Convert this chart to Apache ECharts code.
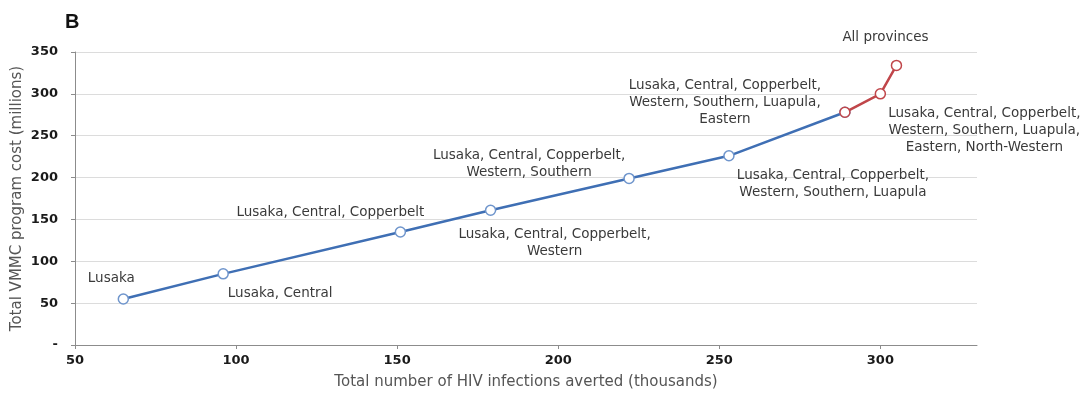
<!DOCTYPE html>
<html>
<head>
<meta charset="utf-8">
<script src="https://cdn.jsdelivr.net/npm/echarts@6/dist/echarts.min.js"></script>
<style>
html,body{margin:0;padding:0;background:#fff;}
#chart{width:1087px;height:402px;}
</style>
</head>
<body>
<div id="chart"></div>
<script>
// ---- data ----
const infectionsAverted = [65, 96, 151, 179, 222, 253, 289, 300, 305];
const programCost = [55, 85, 135, 161, 199, 226, 278, 300, 334];
const provinceLabels = [
  'Lusaka',
  'Lusaka, Central',
  'Lusaka, Central, Copperbelt',
  'Lusaka, Central, Copperbelt,\nWestern',
  'Lusaka, Central, Copperbelt,\nWestern, Southern',
  'Lusaka, Central, Copperbelt,\nWestern, Southern, Luapula',
  'Lusaka, Central, Copperbelt,\nWestern, Southern, Luapula,\nEastern',
  'Lusaka, Central, Copperbelt,\nWestern, Southern, Luapula,\nEastern, North-Western',
  'All provinces'
];
const redStartIndex = 6;
const xTicks = [50, 100, 150, 200, 250, 300];

// label placement (style, kept apart from the data)
const labelOffsets = [
  [-12, -20], [57, 20], [-70, -19], [64, 33], [-100, -14],
  [104, 28], [-120, -10], [104, 37], [-11, -28]
];

const FONT = 'DejaVu Sans';
const BLUE = '#3f6fb4';
const RED = '#c0464a';

function makePoint(i) {
  return {
    value: [infectionsAverted[i], programCost[i]],
    label: {
      show: true,
      formatter: provinceLabels[i],
      position: 'inside',
      align: 'center',
      verticalAlign: 'middle',
      offset: labelOffsets[i]
    }
  };
}

const blueData = [];
for (let i = 0; i <= redStartIndex; i++) {
  const p = makePoint(i);
  if (i === redStartIndex) { p.label = { show: false }; }
  blueData.push(p);
}
const redData = [];
for (let i = redStartIndex; i < infectionsAverted.length; i++) redData.push(makePoint(i));

const labelStyle = {
  color: '#3a3a3a',
  fontFamily: FONT,
  fontSize: 13.5,
  lineHeight: 17
};

const chart = echarts.init(document.getElementById('chart'), null, {renderer: 'canvas'});
chart.setOption({
  animation: false,
  backgroundColor: '#fff',
  title: {
    text: 'B',
    left: 60,
    top: 7,
    textStyle: {fontFamily: 'Liberation Sans', fontWeight: 'bold', fontSize: 20, color: '#111'}
  },
  grid: {left: 75, right: 110, top: 52, bottom: 57, containLabel: false, outerBoundsMode: 'none'},
  xAxis: {
    type: 'value',
    min: 50,
    max: 330,
    interval: 50,
    name: 'Total number of HIV infections averted (thousands)',
    nameLocation: 'middle',
    nameGap: 30,
    nameMoveOverlap: false,
    nameTextStyle: {fontFamily: FONT, fontSize: 15, color: '#555'},
    axisLine: {show: true, lineStyle: {color: '#8c8c8c', width: 1}},
    axisTick: {show: true, length: 4, inside: false, customValues: xTicks, lineStyle: {color: '#8c8c8c'}},
    axisLabel: {
      customValues: xTicks,
      margin: 9,
      fontFamily: FONT, fontWeight: 'bold', fontSize: 13, color: '#1a1a1a'
    },
    splitLine: {show: false}
  },
  yAxis: {
    type: 'value',
    min: 0,
    max: 350,
    interval: 50,
    name: 'Total VMMC program cost (millions)',
    nameLocation: 'middle',
    nameGap: 50,
    nameMoveOverlap: false,
    nameRotate: 90,
    nameTextStyle: {fontFamily: FONT, fontSize: 15, color: '#555'},
    axisLine: {show: true, lineStyle: {color: '#8c8c8c', width: 1}},
    axisTick: {show: true, length: 4, lineStyle: {color: '#8c8c8c'}},
    axisLabel: {
      margin: 17,
      fontFamily: FONT, fontWeight: 'bold', fontSize: 13, color: '#1a1a1a',
      formatter: function (v) { return v === 0 ? '-' : String(v); }
    },
    splitLine: {show: true, lineStyle: {color: '#dcdcdc', width: 1}}
  },
  series: [
    {
      type: 'line',
      data: blueData,
      symbol: 'circle',
      symbolSize: 10,
      lineStyle: {color: BLUE, width: 2.5},
      itemStyle: {color: '#ffffff', borderColor: '#6f95cc', borderWidth: 1.5},
      label: labelStyle,
      z: 2
    },
    {
      type: 'line',
      data: redData,
      symbol: 'circle',
      symbolSize: 10,
      lineStyle: {color: RED, width: 2.5},
      itemStyle: {color: '#ffffff', borderColor: RED, borderWidth: 1.5},
      label: labelStyle,
      z: 3
    }
  ]
});
</script>
</body>
</html>
